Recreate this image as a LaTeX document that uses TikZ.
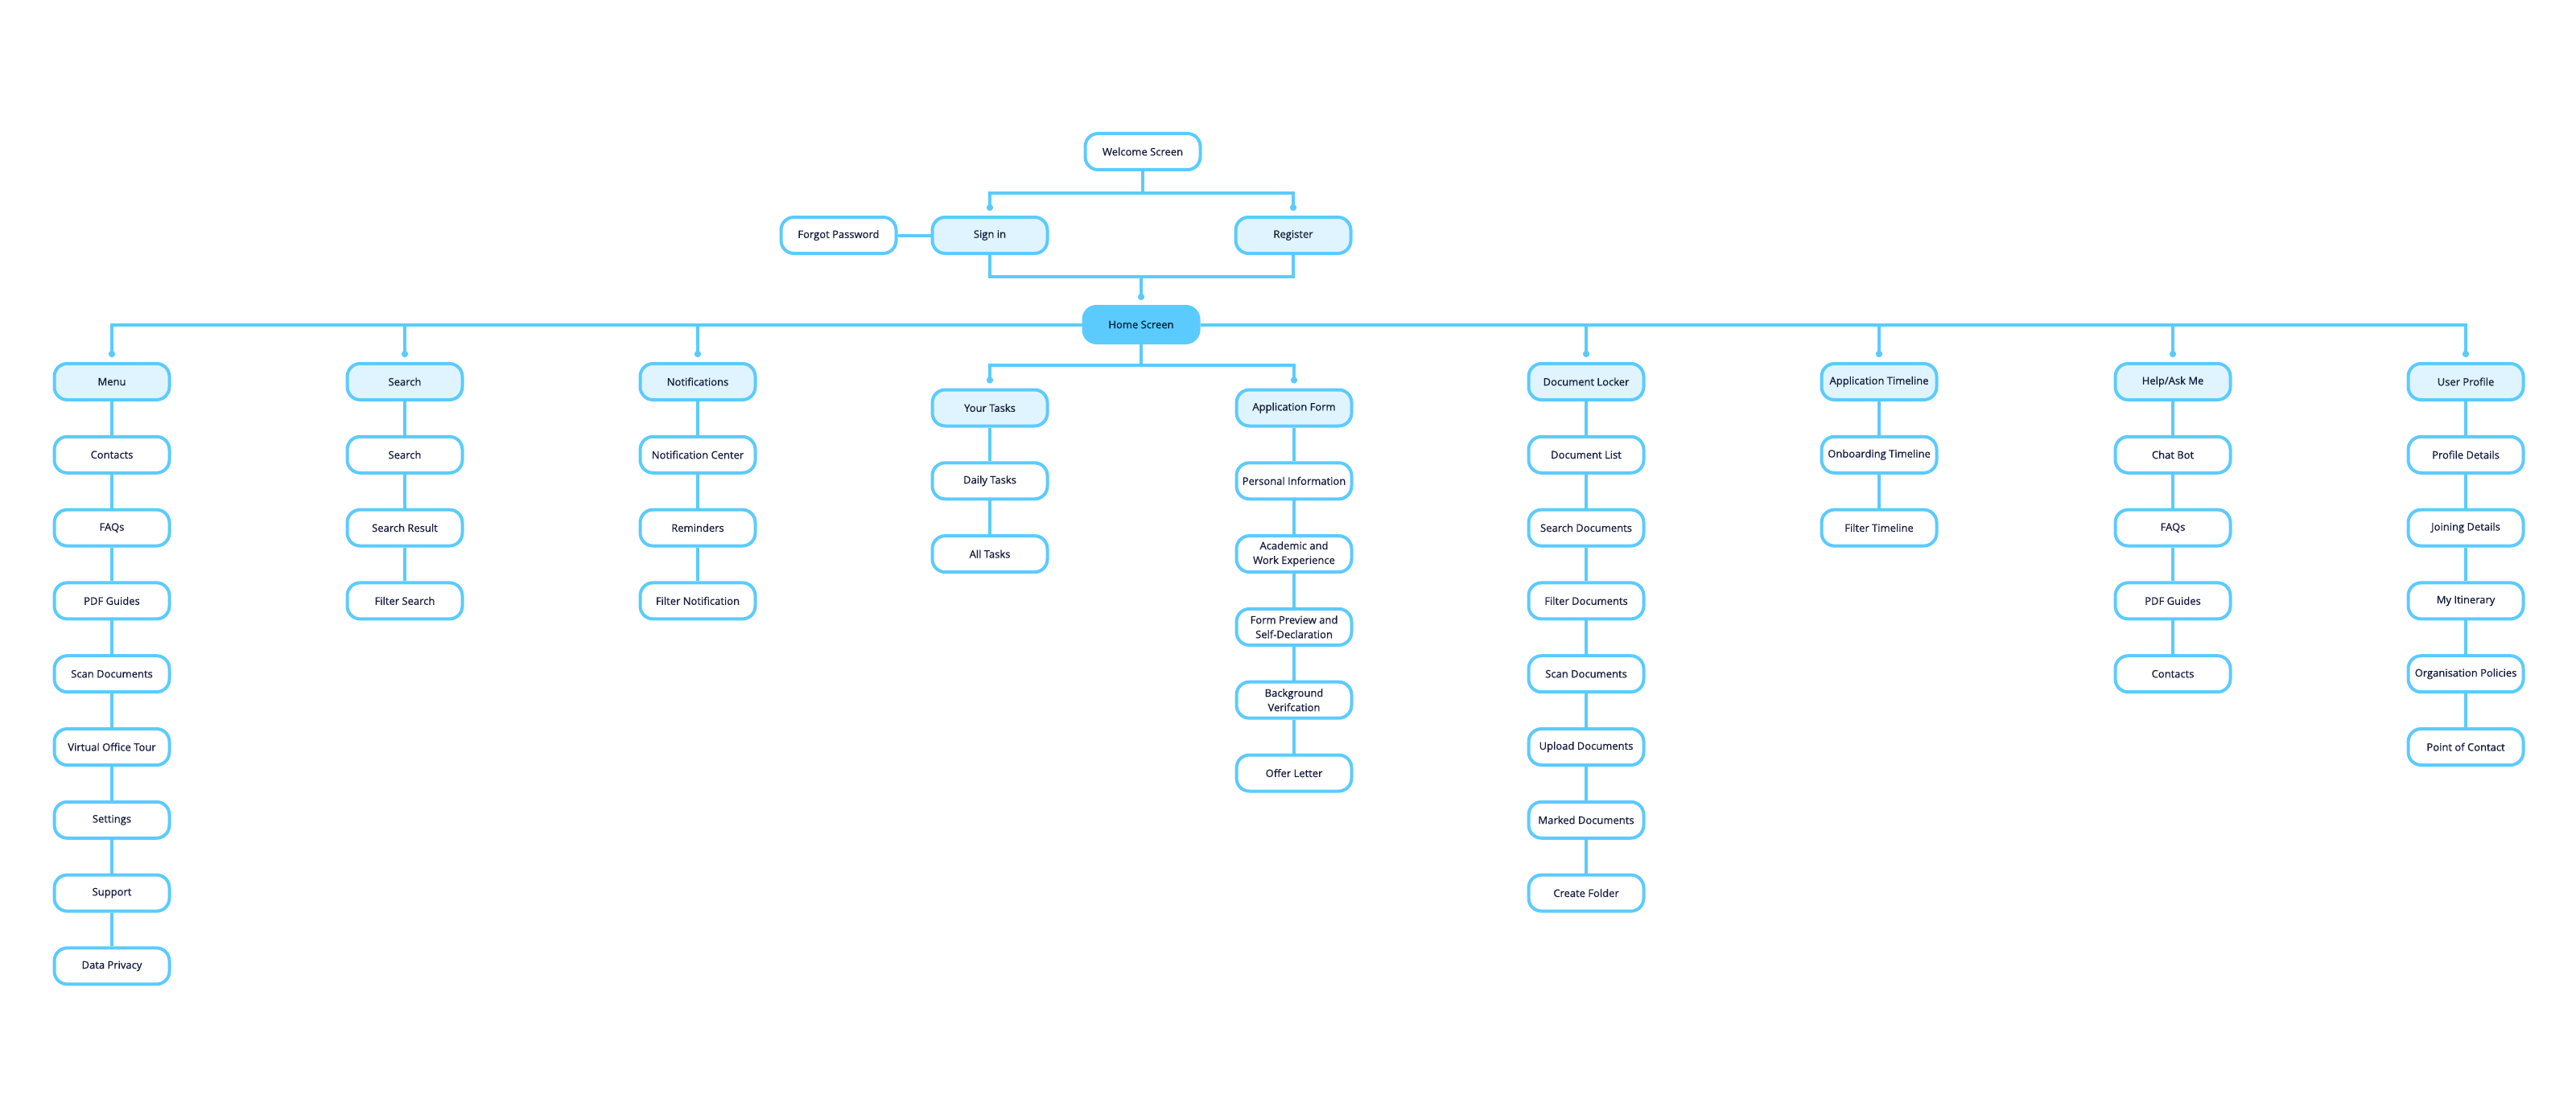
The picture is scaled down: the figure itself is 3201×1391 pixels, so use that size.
\documentclass[tikz,border=0pt]{standalone}
\usepackage{fontspec}
\setmainfont{Open Sans}[FakeBold=0.6]
\usetikzlibrary{arrows.meta}
\definecolor{lineblue}{HTML}{5BCBFE}
\definecolor{hdrfill}{HTML}{DFF4FE}
\definecolor{homefill}{HTML}{5BCBFE}
\definecolor{txtc}{HTML}{141A3A}
\tikzset{
  box/.style={draw=lineblue, line width=4pt, rounded corners=16pt, minimum width=143pt, minimum height=45pt, fill=white, text=txtc, font=\fontsize{13}{18}\selectfont, align=center, inner sep=0pt},
  hbox/.style={box, fill=hdrfill},
  homebox/.style={box, fill=homefill, draw=homefill},
  conn/.style={draw=lineblue, line width=4pt},
  dot/.style={-{Circle[length=8pt,width=8pt]}, shorten >=6pt},
}
\begin{document}
\begin{tikzpicture}[x=1pt,y=-1pt]
\useasboundingbox (0,0) rectangle (3201,1391);
% top
\node[box] (welcome) at (1420,188.5) {Welcome Screen};
\node[hbox] (signin) at (1230,292.5) {Sign in};
\node[hbox] (register) at (1607,292.5) {Register};
\node[box] (forgot) at (1042,292.5) {Forgot Password};
\node[homebox] (home) at (1418,403.5) {Home Screen};
% Menu column
\node[hbox] (m0) at (139,474.5) {Menu};
\node[box] (m1) at (139,565.3) {Contacts};
\node[box] (m2) at (139,656.1) {FAQs};
\node[box] (m3) at (139,746.9) {PDF Guides};
\node[box] (m4) at (139,837.7) {Scan Documents};
\node[box] (m5) at (139,928.5) {Virtual Office Tour};
\node[box] (m6) at (139,1019.3) {Settings};
\node[box] (m7) at (139,1110.1) {Support};
\node[box] (m8) at (139,1200.9) {Data Privacy};
% Search column
\node[hbox] (s0) at (503,474.5) {Search};
\node[box] (s1) at (503,565.3) {Search};
\node[box] (s2) at (503,656.1) {Search Result};
\node[box] (s3) at (503,746.9) {Filter Search};
% Notifications
\node[hbox] (n0) at (867,474.5) {Notifications};
\node[box] (n1) at (867,565.3) {Notification Center};
\node[box] (n2) at (867,656.1) {Reminders};
\node[box] (n3) at (867,746.9) {Filter Notification};
% Your tasks
\node[hbox] (t0) at (1230,507) {Your Tasks};
\node[box] (t1) at (1230,597.8) {Daily Tasks};
\node[box] (t2) at (1230,688.6) {All Tasks};
% Application form
\node[hbox] (a0) at (1608,507) {Application Form};
\node[box] (a1) at (1608,597.8) {Personal Information};
\node[box] (a2) at (1608,688.6) {Academic and\\Work Experience};
\node[box] (a3) at (1608,779.4) {Form Preview and\\Self-Declaration};
\node[box] (a4) at (1608,870.2) {Background\\Verifcation};
\node[box] (a5) at (1608,961) {Offer Letter};
% Document locker
\node[hbox] (d0) at (1971,474.5) {Document Locker};
\node[box] (d1) at (1971,565.3) {Document List};
\node[box] (d2) at (1971,656.1) {Search Documents};
\node[box] (d3) at (1971,746.9) {Filter Documents};
\node[box] (d4) at (1971,837.7) {Scan Documents};
\node[box] (d5) at (1971,928.5) {Upload Documents};
\node[box] (d6) at (1971,1019.3) {Marked Documents};
\node[box] (d7) at (1971,1110.1) {Create Folder};
% Application timeline
\node[hbox] (l0) at (2335,474.5) {Application Timeline};
\node[box] (l1) at (2335,565.3) {Onboarding Timeline};
\node[box] (l2) at (2335,656.1) {Filter Timeline};
% Help
\node[hbox] (h0) at (2700,474.5) {Help/Ask Me};
\node[box] (h1) at (2700,565.3) {Chat Bot};
\node[box] (h2) at (2700,656.1) {FAQs};
\node[box] (h3) at (2700,746.9) {PDF Guides};
\node[box] (h4) at (2700,837.7) {Contacts};
% User profile
\node[hbox] (u0) at (3064,474.5) {User Profile};
\node[box] (u1) at (3064,565.3) {Profile Details};
\node[box] (u2) at (3064,656.1) {Joining Details};
\node[box] (u3) at (3064,746.9) {My Itinerary};
\node[box] (u4) at (3064,837.7) {Organisation Policies};
\node[box] (u5) at (3064,928.5) {Point of Contact};

% connectors top
\coordinate (f1) at (1420,240);
\draw[conn] (welcome.south) -- (f1);
\draw[conn,dot] (f1) -| (signin.north);
\draw[conn,dot] (f1) -| (register.north);
\draw[conn] (forgot.east) -- (signin.west);
\coordinate (f2) at (1418,344);
\draw[conn] (signin.south) |- (f2);
\draw[conn] (register.south) |- (f2);
\draw[conn,dot] (f2) -- (home.north);
% home bus
\foreach \c in {m0,s0,n0} \draw[conn,dot] (home.west) -| (\c.north);
\foreach \c in {d0,l0,h0,u0} \draw[conn,dot] (home.east) -| (\c.north);
\coordinate (f3) at (1418,454);
\draw[conn] (home.south) -- (f3);
\draw[conn,dot] (f3) -| (t0.north);
\draw[conn,dot] (f3) -| (a0.north);
% columns
\foreach \a/\b in {m0/m1,m1/m2,m2/m3,m3/m4,m4/m5,m5/m6,m6/m7,m7/m8,
  s0/s1,s1/s2,s2/s3, n0/n1,n1/n2,n2/n3, t0/t1,t1/t2,
  a0/a1,a1/a2,a2/a3,a3/a4,a4/a5,
  d0/d1,d1/d2,d2/d3,d3/d4,d4/d5,d5/d6,d6/d7,
  l0/l1,l1/l2, h0/h1,h1/h2,h2/h3,h3/h4,
  u0/u1,u1/u2,u2/u3,u3/u4,u4/u5}
  \draw[conn] (\a.south) -- (\b.north);
\end{tikzpicture}
\end{document}
